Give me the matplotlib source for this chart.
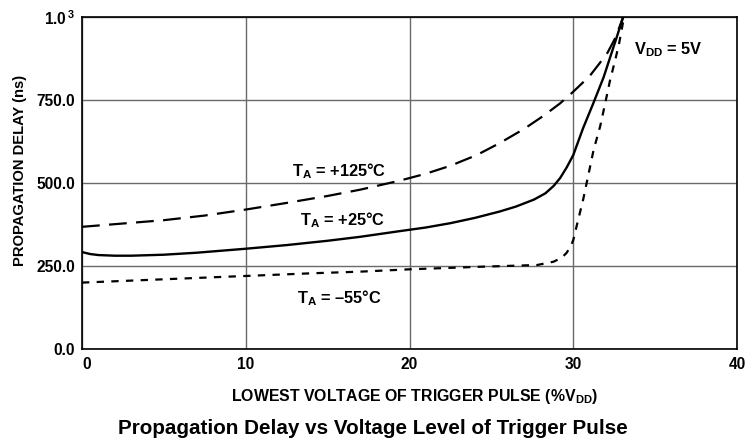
import matplotlib
matplotlib.use("Agg")
import matplotlib.pyplot as plt

plt.rcParams['font.family'] = ['Liberation Sans', 'DejaVu Sans']
plt.rcParams['font.weight'] = 'bold'
plt.rcParams['mathtext.fontset'] = 'custom'
plt.rcParams['mathtext.rm'] = 'Liberation Sans:bold'
plt.rcParams['mathtext.it'] = 'Liberation Sans:bold'
plt.rcParams['mathtext.bf'] = 'Liberation Sans:bold'
plt.rcParams['mathtext.sf'] = 'Liberation Sans:bold'

# ---- data ----
x_125 = [0, 2.5, 5, 7.5, 10, 12.5, 15, 17, 19.4, 21, 22.5, 24.1, 25.5, 27, 28.2,
         29.2, 30, 31, 31.6, 32.1, 32.6, 33.05]
y_125 = [368, 378, 388, 402, 420, 440, 461, 480, 507, 528, 552, 584, 620, 663, 703,
         740, 775, 822, 860, 893, 940, 1000]

x_25 = [0, 0.5, 1, 2, 3, 5, 7, 10, 12.5, 15, 17, 19.4, 21, 22.5, 24, 25.5, 26.5, 27.6,
        28.3, 28.8, 29.2, 29.6, 30.0, 30.6, 31.24, 31.85, 32.05, 32.66, 33.05]
y_25 = [292, 286, 283, 281, 281, 284, 290, 302, 313, 326, 338, 355, 366, 379, 395, 414,
        429, 450, 469, 491, 515, 547, 584, 665, 742, 818, 848, 940, 1000]

x_m55 = [0, 3, 6, 10, 14, 17, 20, 24.5, 27.8, 28.8, 29.3, 29.6, 29.85, 30.0, 30.3, 30.6,
         30.9, 31.24, 31.64, 31.95, 32.25, 32.56, 32.8, 33.1]
y_m55 = [200, 206, 212, 220, 228, 233, 240, 248, 253, 263, 275, 290, 310, 328, 389, 449,
         519, 599, 670, 740, 810, 870, 920, 1000]

x_ticks = [0, 10, 20, 30, 40]
x_tick_labels = ["0", "10", "20", "30", "40"]
y_ticks = [0, 250, 500, 750, 1000]
y_tick_labels = ["0.0", "250.0", "500.0", "750.0", r"1.0$^{\,3}$"]

curve_labels = [r"T$_{\mathrm{A}}$ = +125°C", r"T$_{\mathrm{A}}$ = +25°C", r"T$_{\mathrm{A}}$ = –55°C"]
curve_label_pos = [(15.7, 519), (15.9, 373), (15.7, 138)]
vdd_label = r"V$_{\mathrm{DD}}$ = 5V"
vdd_pos = (35.8, 888)

xlabel = r"LOWEST VOLTAGE OF TRIGGER PULSE (%V$_{\mathrm{DD}}$)"
ylabel = "PROPAGATION DELAY (ns)"
title = "Propagation Delay vs Voltage Level of Trigger Pulse"

# ---- figure ----
fig = plt.figure(figsize=(7.48, 4.45), dpi=100)
ax = fig.add_axes([82/748, (445-349)/445, (737-82)/748, (349-17)/445])

ax.plot(x_125, y_125, color='black', lw=1.6, dashes=(8, 4.2))
ax.plot(x_25, y_25, color='black', lw=1.7)
ax.plot(x_m55, y_m55, color='black', lw=1.6, dashes=(3.3, 3.3))

ax.set_xlim(0, 40)
ax.set_ylim(0, 1000)
ax.set_xticks(x_ticks)
ax.set_xticklabels(x_tick_labels)
ax.set_yticks(y_ticks)
ax.set_yticklabels(y_tick_labels)
ax.tick_params(axis='both', length=0, labelsize=11.2)
ax.tick_params(axis='x', pad=5.5)
ax.tick_params(axis='y', pad=5)
ax.get_xticklabels()[0].set_ha('left')
for lab in ax.get_xticklabels() + ax.get_yticklabels():
    lab.set_fontweight('bold')

ax.grid(True, color='#6a6a6a', lw=1.0)
ax.set_axisbelow(True)
for s in ax.spines.values():
    s.set_color('black')
    s.set_linewidth(1.2)

for txt, (tx, ty) in zip(curve_labels, curve_label_pos):
    ax.text(tx, ty, txt, ha='center', va='baseline', fontsize=11.8, fontweight='bold')
ax.text(vdd_pos[0], vdd_pos[1], vdd_label, ha='center', va='baseline', fontsize=11.8,
        fontweight='bold')

fig.text(20/748, (445-170)/445, ylabel, rotation=90, ha='center', va='center',
         fontsize=10.6, fontweight='bold')
fig.text(415/748, (445-401)/445, xlabel, ha='center', va='baseline',
         fontsize=11.4, fontweight='bold')
fig.text(373/748, (445-434)/445, title, ha='center', va='baseline',
         fontsize=14.9, fontweight='bold')

fig.savefig("out.png", dpi=100)
